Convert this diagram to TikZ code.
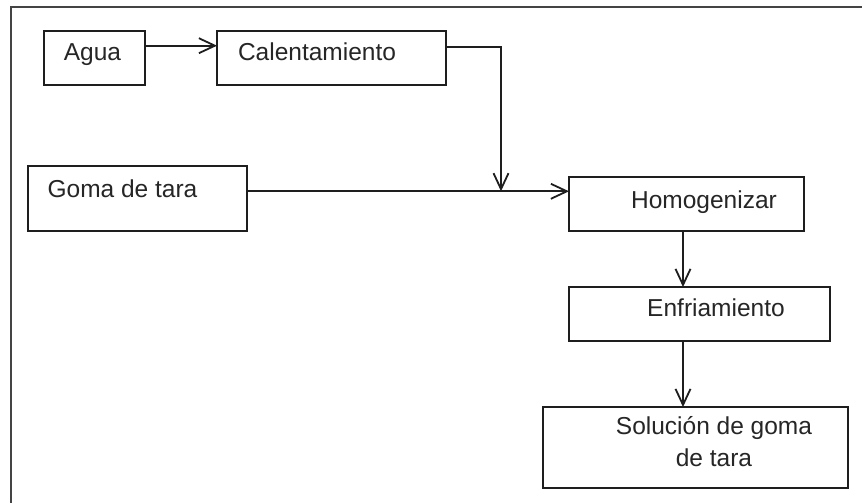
\documentclass[tikz,border=0pt]{standalone}
\usepackage{fontspec}
\setmainfont{Liberation Sans}
\usetikzlibrary{arrows.meta}
\definecolor{ink}{HTML}{1E1E1E}
\definecolor{txt}{HTML}{262626}
\definecolor{framec}{HTML}{444444}
\tikzset{
  box/.style={draw=ink, line width=1.8pt, rectangle, inner sep=0pt, outer sep=0pt},
  lbl/.style={text=txt, inner sep=0pt, anchor=base, font=\fontsize{24.5}{32}\selectfont},
  flow/.style={draw=ink, line width=1.8pt, -{Straight Barb[length=16pt,width=15pt,line width=1.8pt]}},
}
\begin{document}
\begin{tikzpicture}[x=1pt, y=-1pt]
  \useasboundingbox (0,0) rectangle (862,503);
  \clip (0,0) rectangle (862,503);
  \fill[white] (0,0) rectangle (862,503);

  % outer frame (only the top and left sides fall on the page)
  \draw[framec, line width=2.6pt] (11,520) -- (11,7) -- (880,7);

  % process boxes
  \node[box, minimum width=101pt, minimum height=54pt] (agua) at (94.5,58) {};
  \node[box, minimum width=229pt, minimum height=54pt] (cal)  at (331.5,58) {};
  \node[box, minimum width=219pt, minimum height=65pt] (goma) at (137.5,198.5) {};
  \node[box, minimum width=235pt, minimum height=54pt] (homo) at (686.5,204) {};
  \node[box, minimum width=261pt, minimum height=54pt] (enf)  at (699.5,314) {};
  \node[box, minimum width=305pt, minimum height=81pt] (sol)  at (695.5,447.5) {};

  % box texts
  \node[lbl] (aguaT) at (92.5,61) {Agua};
  \node[lbl] (calT)  at (317,61) {Calentamiento};
  \node[lbl] (gomaT) at (122.5,197) {Goma de tara};
  \node[lbl] (homoT) at (704,208) {Homogenizar};
  \node[lbl] (enfT)  at (716,316) {Enfriamiento};
  \node[lbl, anchor=north, align=center] (solT) at (714,416)
    {Solución de goma\\de tara};

  % connectors
  \coordinate (bend) at (501,46.7);
  \coordinate (join) at (501,191.3);
  \draw[flow] ([yshift=12.3pt]agua.east) -- ([yshift=12.3pt]cal.west);
  \draw[flow] (cal.east |- bend) -- (bend) -- (join);
  \draw[flow] (goma.east |- join) -- (homo.west |- join);
  \draw[flow] ([xshift=-3.5pt]homo.south) -- ([xshift=-16.5pt]enf.north);
  \draw[flow] ([xshift=-16.5pt]enf.south) -- ([xshift=-12.5pt]sol.north);
\end{tikzpicture}
\end{document}
